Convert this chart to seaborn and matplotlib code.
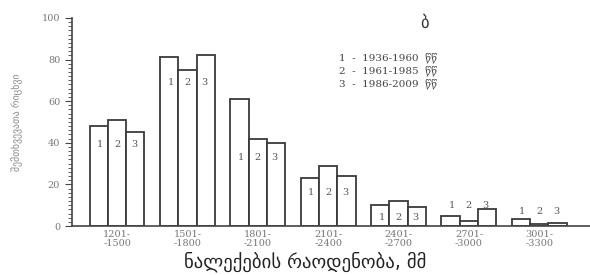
import matplotlib
matplotlib.use("Agg")
import matplotlib.pyplot as plt
import seaborn as sns
import pandas as pd
from matplotlib.ticker import MultipleLocator

# intervalos de precipitación (mm) y valores por periodo
intervalos = ["1201-\n-1500", "1501-\n-1800", "1801-\n-2100", "2101-\n-2400",
              "2401-\n-2700", "2701-\n-3000", "3001-\n-3300"]
periodos = ["1", "2", "3"]
p1 = [48, 81, 61, 23, 10, 5, 3.5]
p2 = [51, 75, 42, 29, 12, 2.5, 1]
p3 = [45, 82, 40, 24, 9, 8, 1.5]
altura_etiquetas = [39, 69, 33, 16, 4, 10, 7]
leyenda = ["1  -  1936-1960  წწ", "2  -  1961-1985  წწ", "3  -  1986-2009  წწ"]

df = pd.DataFrame({
    "intervalo": intervalos * 3,
    "periodo": [p for p in periodos for _ in intervalos],
    "valor": p1 + p2 + p3,
})

sns.set_style("ticks")
plt.rcParams["font.family"] = ["DejaVu Serif", "DejaVu Sans"]

fig = plt.figure(figsize=(5.9, 2.75), dpi=100)
ax = fig.add_axes([0.122, 0.178, 0.878, 0.757])

sns.barplot(data=df, x="intervalo", y="valor", hue="periodo", order=intervalos,
            hue_order=periodos, palette=["white"] * 3, edgecolor="#3a3a3a",
            linewidth=1.3, width=0.78, legend=False, ax=ax)

for i, h in enumerate(altura_etiquetas):
    for j, t in enumerate(periodos):
        ax.text(i + (j - 1) * 0.24, h, t, ha="center", va="center",
                fontsize=7, color="#555555")

ax.set_xlim(-0.64, 6.72)
ax.set_ylim(0, 100)
ax.yaxis.set_major_locator(MultipleLocator(20))
ax.yaxis.set_minor_locator(MultipleLocator(2))
ax.tick_params(axis="y", which="major", length=5, labelsize=7, colors="#444444",
               labelcolor="#777777")
ax.tick_params(axis="y", which="minor", length=3, color="#444444")
ax.tick_params(axis="x", length=0, labelsize=7, labelcolor="#777777", pad=3)
for lab in ax.get_xticklabels():
    lab.set_linespacing(0.9)
sns.despine(ax=ax)
ax.spines["left"].set_color("#444444")
ax.spines["bottom"].set_color("#444444")
ax.spines["left"].set_linewidth(1.2)
ax.spines["bottom"].set_linewidth(1.2)

ax.set_xlabel("ნალექების რაოდენობა, მმ", fontsize=13.5, color="#222222",
              family=["DejaVu Sans"], va="center")
ax.xaxis.set_label_coords(0.45, -0.17)
ax.set_ylabel("შემთხვევათა რიცხვი", fontsize=7, color="#888888",
              family=["DejaVu Sans"])
ax.yaxis.set_label_coords(-0.095, 0.5)

fig.text(0.72, 0.90, "ბ", fontsize=12, color="#333333", ha="center",
         family=["DejaVu Sans"])
for k, linea in enumerate(leyenda):
    fig.text(0.575, 0.79 - k * 0.047, linea, fontsize=7.5, color="#444444",
             va="center", family=["DejaVu Serif", "DejaVu Sans"])

fig.savefig("out.png", dpi=100)
